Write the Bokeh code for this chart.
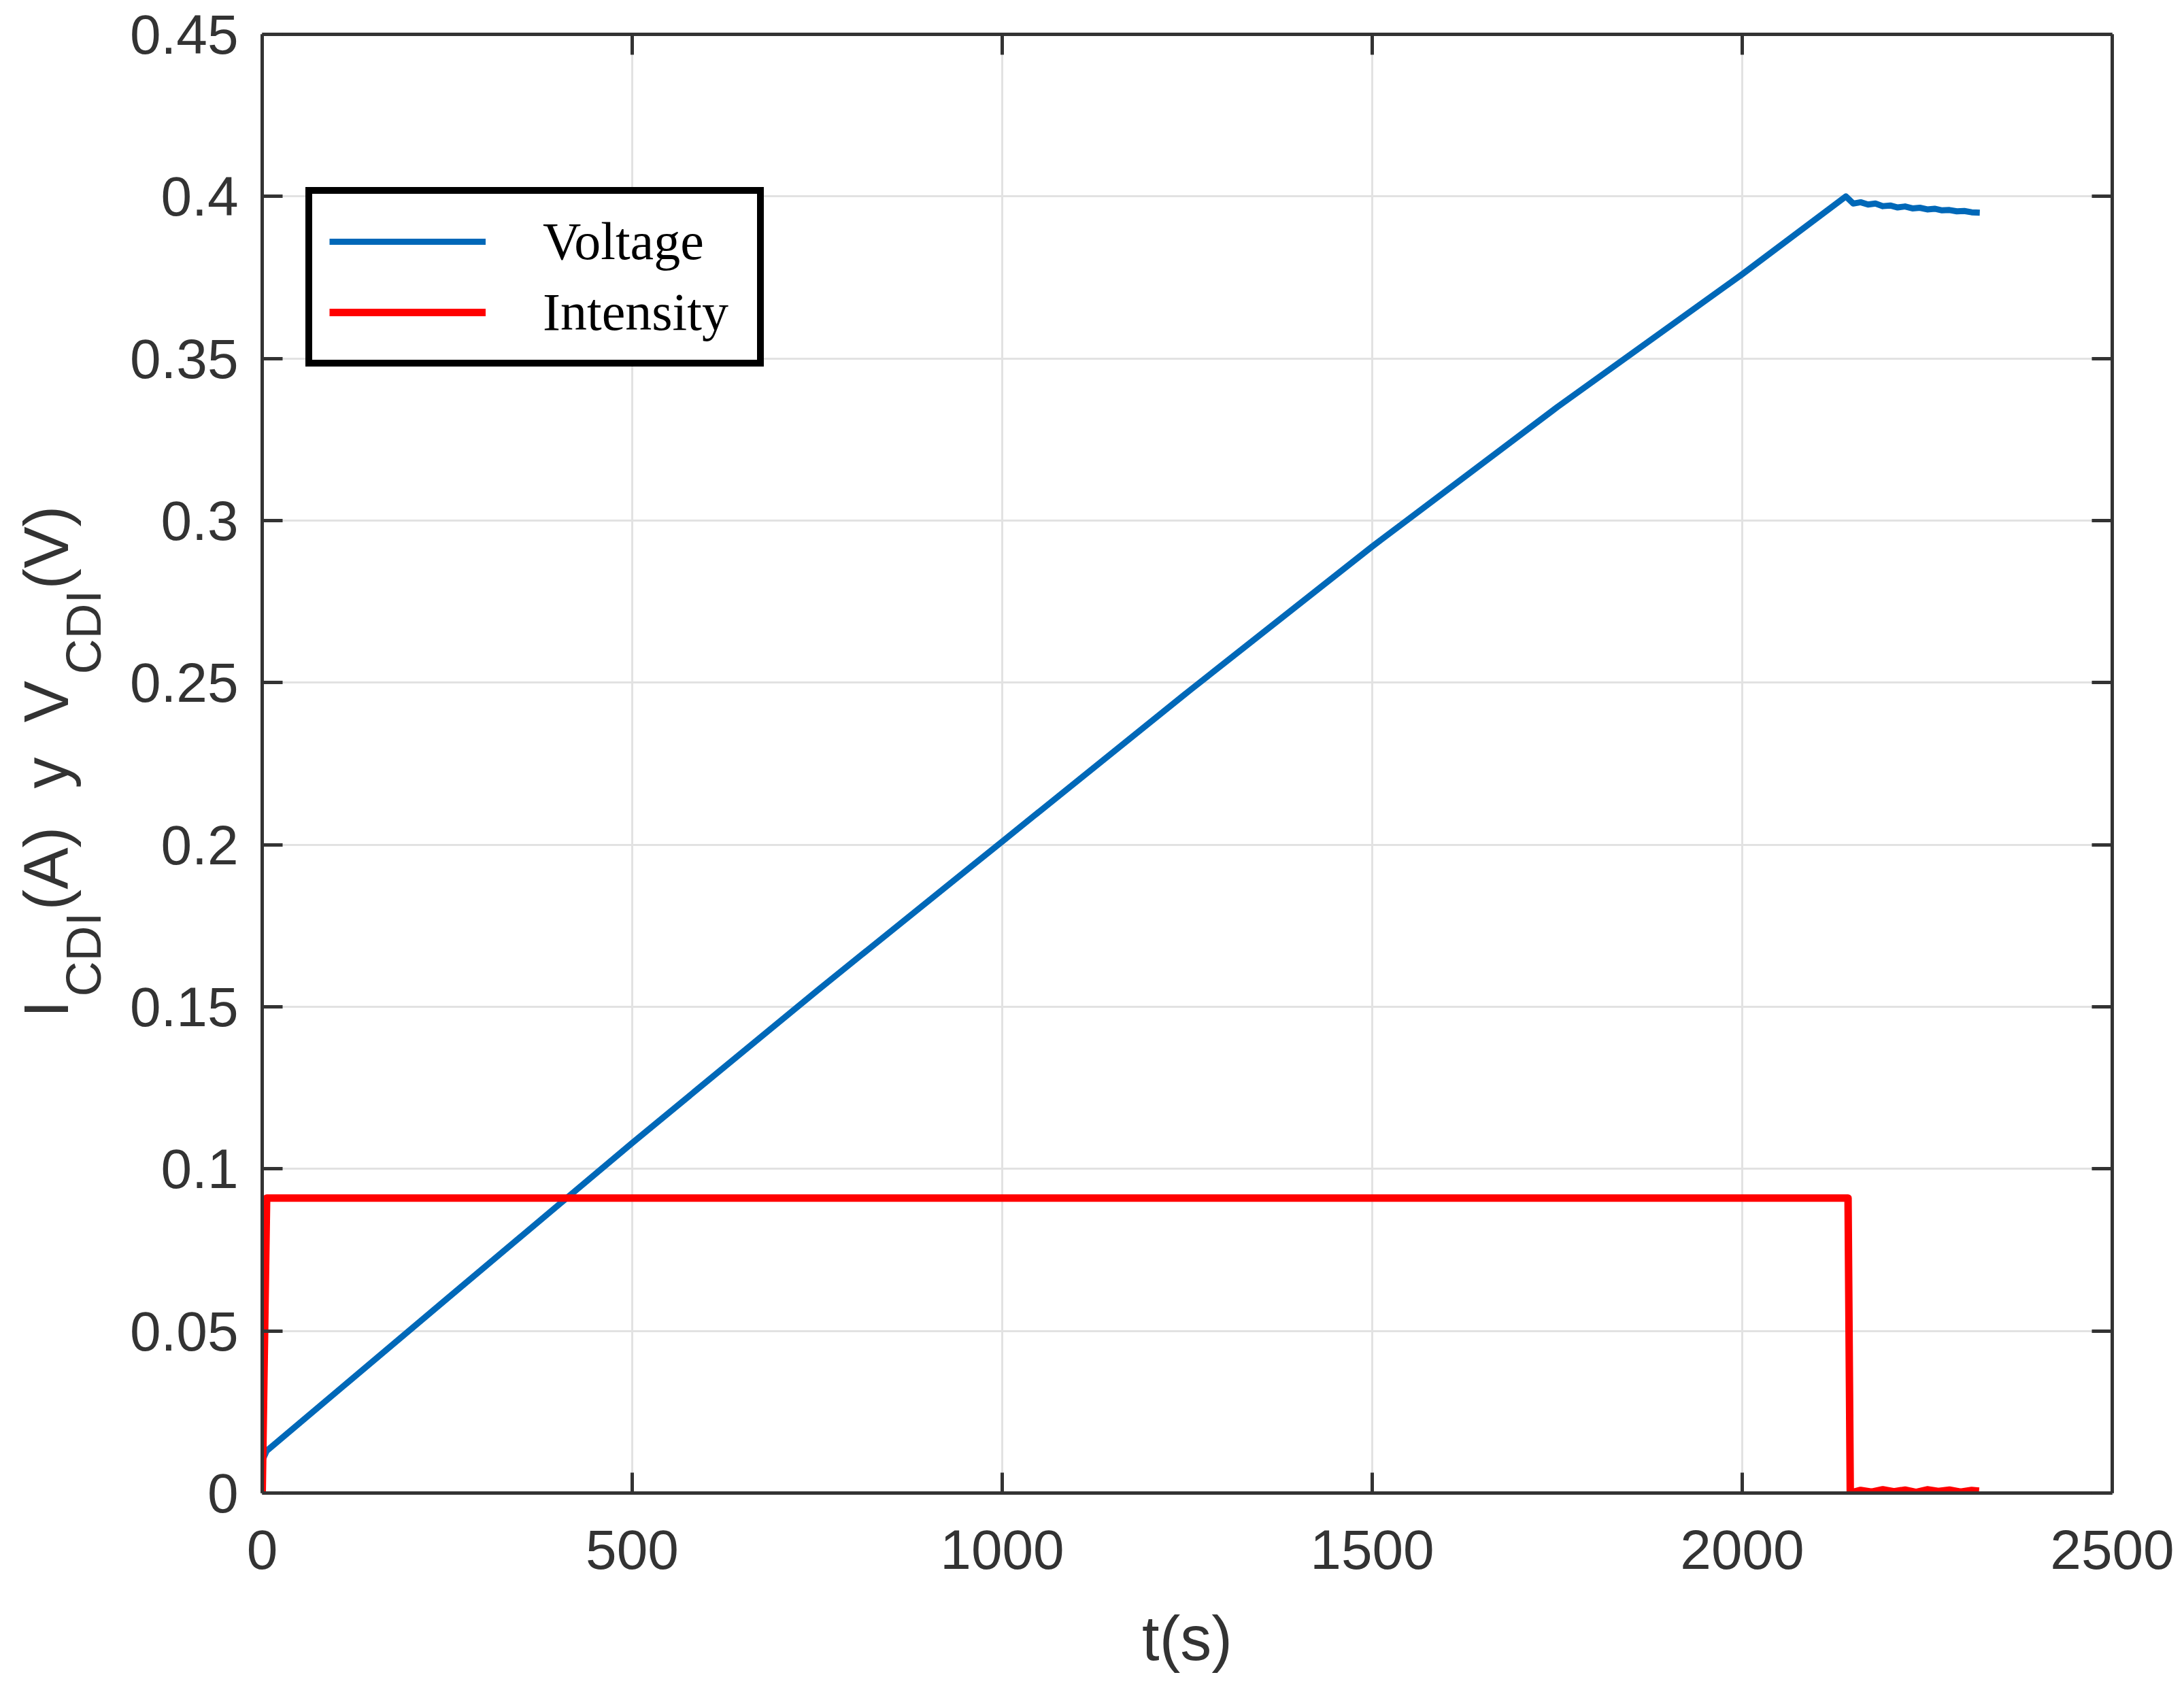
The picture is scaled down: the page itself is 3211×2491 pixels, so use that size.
from bokeh.plotting import figure
from bokeh.layouts import row
from bokeh.models import (ColumnDataSource, FixedTicker, LinearAxis, Range1d, Legend,
                          LegendItem, Label, CustomJSTickFormatter)
from bokeh.embed import file_html
from bokeh.resources import INLINE
import math

# ---------------- data ----------------
volt_t = [0, 6, 250, 500, 750, 1000, 1250, 1500, 1750, 2000, 2140,
          2150, 2160, 2170, 2180, 2190, 2200, 2210, 2220, 2230, 2240, 2250,
          2260, 2270, 2280, 2290, 2300, 2310, 2321]
volt_v = [0.010, 0.013, 0.060, 0.108, 0.155, 0.201, 0.247, 0.292, 0.335, 0.376, 0.400,
          0.3978, 0.3982, 0.3975, 0.3978, 0.3970, 0.3972, 0.3966, 0.3969, 0.3963, 0.3965, 0.3960,
          0.3962, 0.3957, 0.3958, 0.3954, 0.3955, 0.3951, 0.3950]

int_t = [0, 6, 2143, 2146, 2160, 2175, 2190, 2205, 2220, 2235, 2250, 2265, 2280, 2295, 2310, 2320]
int_i = [0.0, 0.091, 0.091, 0.0, 0.0008, 0.0003, 0.0010, 0.0004, 0.0009, 0.0002, 0.0010,
         0.0005, 0.0009, 0.0003, 0.0008, 0.0006]

x_ticks = [0, 500, 1000, 1500, 2000, 2500]
x_tick_labels = ["0", "500", "1000", "1500", "2000", "2500"]
y_ticks = [0, 0.05, 0.1, 0.15, 0.2, 0.25, 0.3, 0.35, 0.4, 0.45]
y_tick_labels = ["0", "0.05", "0.1", "0.15", "0.2", "0.25", "0.3", "0.35", "0.4", "0.45"]

series_names = ["Voltage", "Intensity"]
x_label = "t(s)"
# y title "I_CDI(A)  y  V_CDI(V)": pieces and whether each is a subscript
y_label_parts = ["I", "CDI", "(A)", "y", "V", "CDI", "(V)"]
y_label_is_sub = [False, True, False, False, False, True, False]

# ---------------- geometry ----------------
H = 2480
W_LABEL = 180
AX = "#333333"

# ---------------- main figure ----------------
p = figure(width=3200 - W_LABEL, height=H, x_range=Range1d(0, 2500), y_range=Range1d(0, 0.45),
           output_backend="svg", toolbar_location=None,
           min_border_left=385 - W_LABEL, min_border_right=95,
           min_border_top=50, min_border_bottom=285)
p.background_fill_color = "white"
p.border_fill_color = "white"
p.outline_line_color = None

bottom = p.below[0]
left = p.left[0]

bottom.ticker = FixedTicker(ticks=x_ticks)
bottom.major_label_overrides = {t: l for t, l in zip(x_ticks, x_tick_labels)}
left.ticker = FixedTicker(ticks=y_ticks)
left.major_label_overrides = {t: l for t, l in zip(y_ticks, y_tick_labels)}

top = LinearAxis(ticker=FixedTicker(ticks=x_ticks),
                 formatter=CustomJSTickFormatter(code="return ''"))
right = LinearAxis(ticker=FixedTicker(ticks=y_ticks),
                   formatter=CustomJSTickFormatter(code="return ''"))

for ax in [bottom, left, top, right]:
    ax.axis_line_color = AX
    ax.axis_line_width = 5
    ax.major_tick_line_color = AX
    ax.major_tick_line_width = 5
    ax.major_tick_in = 30
    ax.major_tick_out = 0
    ax.minor_tick_in = 0
    ax.minor_tick_out = 0
    ax.major_label_text_font = "Liberation Sans"
    ax.major_label_text_color = AX
for ax in [top, right]:
    ax.major_label_text_font_size = "1px"
    ax.major_label_standoff = 0

p.add_layout(top, "above")
p.add_layout(right, "right")

bottom.major_label_text_font_size = "82px"
left.major_label_text_font_size = "82px"
bottom.major_label_standoff = 54
left.major_label_standoff = 35

bottom.axis_label = x_label
bottom.axis_label_text_font = "Liberation Sans"
bottom.axis_label_text_font_style = "normal"
bottom.axis_label_text_font_size = "92px"
bottom.axis_label_text_color = AX
bottom.axis_label_standoff = 48

p.grid.grid_line_color = "#e2e2e2"
p.grid.grid_line_width = 3

src_v = ColumnDataSource(dict(t=volt_t, v=volt_v))
src_i = ColumnDataSource(dict(t=int_t, i=int_i))
r_v = p.line("t", "v", source=src_v, line_color="#0068B8", line_width=9, line_join="round")
r_i = p.line("t", "i", source=src_i, line_color="#FF0000", line_width=11, line_join="round")

legend = Legend(items=[LegendItem(label=series_names[0], renderers=[r_v]),
                       LegendItem(label=series_names[1], renderers=[r_i])],
                location=(64, 1656), margin=0, padding=25, spacing=14,
                glyph_width=230, glyph_height=80, label_standoff=84,
                label_width=290, label_height=80,
                label_text_font="Liberation Serif", label_text_font_size="78px",
                label_text_color="black",
                border_line_color="black", border_line_width=10, border_line_alpha=1.0,
                background_fill_color="white", background_fill_alpha=1.0)
p.add_layout(legend)

# ---------------- y-axis title strip (with subscripts) ----------------
lab = figure(width=W_LABEL, height=H, x_range=Range1d(0, W_LABEL), y_range=Range1d(0, H),
             output_backend="svg", toolbar_location=None,
             x_axis_type=None, y_axis_type=None,
             min_border_left=0, min_border_right=0, min_border_top=0, min_border_bottom=0)
lab.outline_line_color = None
lab.background_fill_color = "white"
lab.border_fill_color = "white"

F_MAIN, F_SUB = 92, 72
main_x, sub_x = 67, 122
starts = [699, 730, 857, 1036, 1133, 1204, 1329]
for txt, is_sub, y0 in zip(y_label_parts, y_label_is_sub, starts):
    fs = F_SUB if is_sub else F_MAIN
    x0 = sub_x if is_sub else main_x
    lab.add_layout(Label(x=x0, y=y0, x_units="screen", y_units="screen", text=txt,
                         angle=math.pi / 2, angle_units="rad",
                         text_align="left", text_baseline="alphabetic",
                         text_font="Liberation Sans", text_font_size=f"{fs}px",
                         text_color=AX))

layout = row(lab, p, spacing=0)
open("out.html", "w").write(file_html(layout, INLINE))
